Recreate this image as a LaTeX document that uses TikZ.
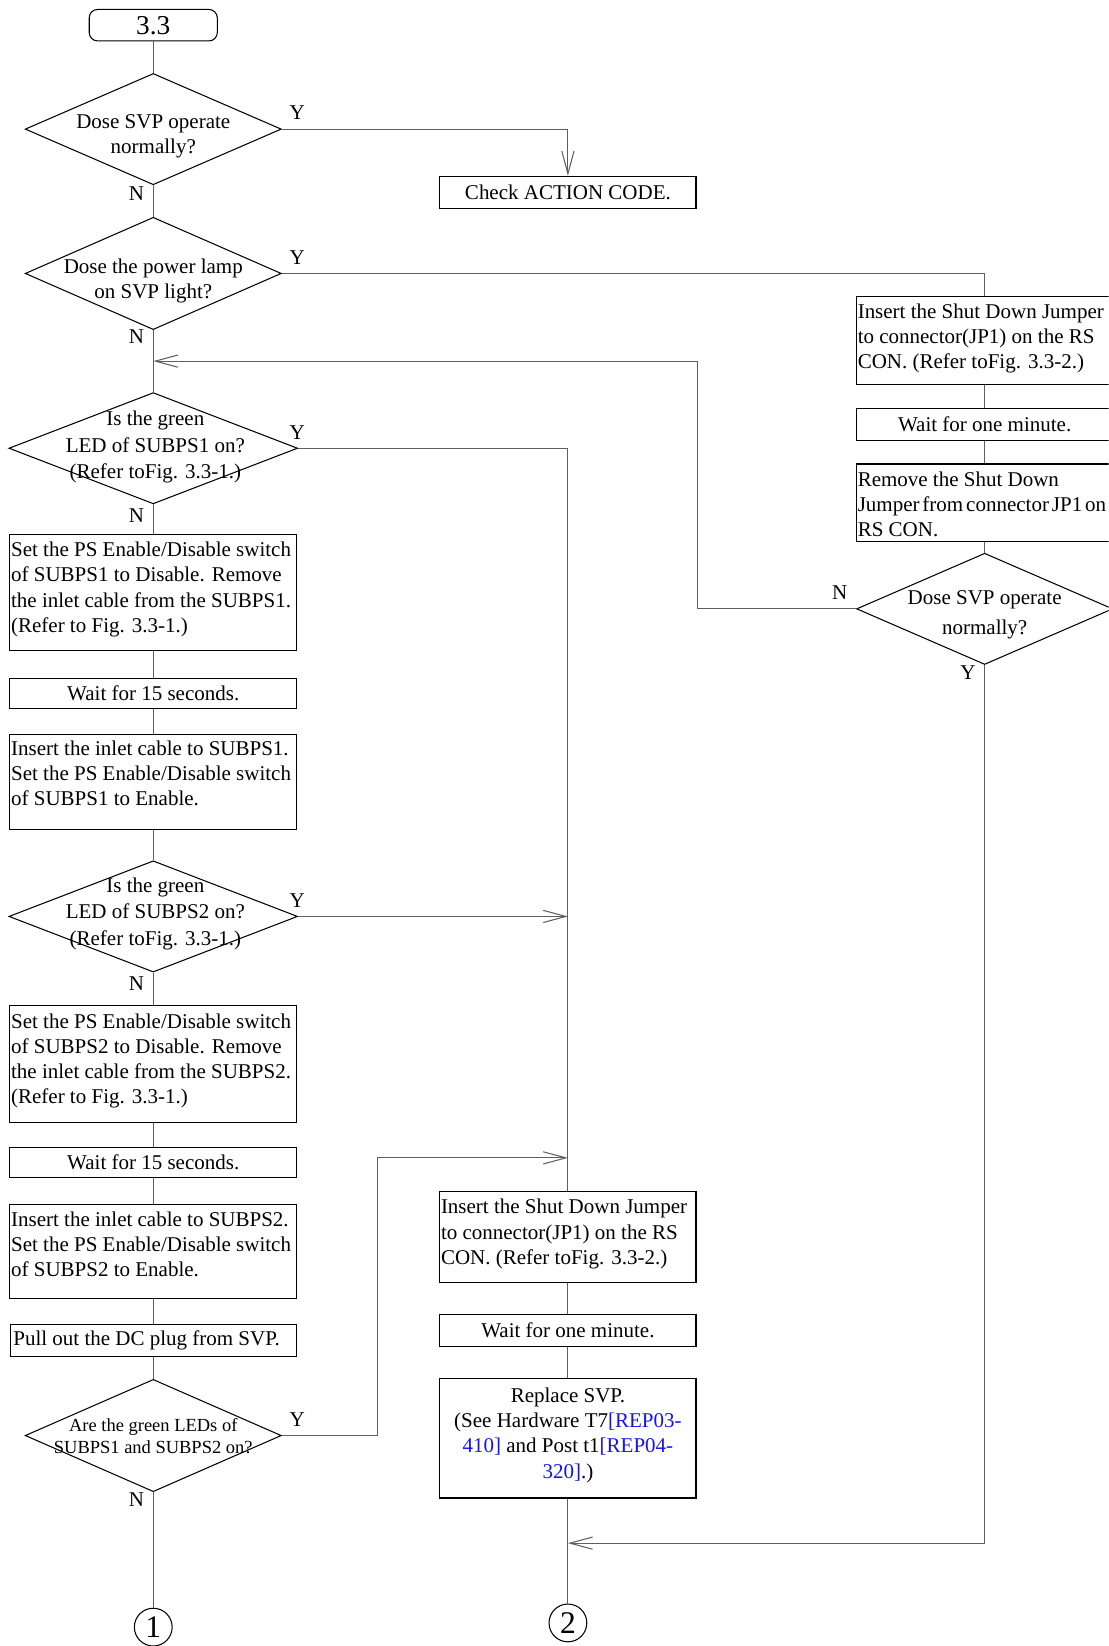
\documentclass[tikz,border=0pt]{standalone}
\usepackage{fontspec}
\setmainfont{Liberation Serif}
\usetikzlibrary{shapes.geometric,arrows.meta}
\definecolor{linkblue}{RGB}{20,20,235}
\definecolor{wire}{RGB}{95,95,95}

\begin{document}
\begin{tikzpicture}[x=0.5pt,y=-0.5pt,
  every node/.style={font=\fontsize{10}{12}\selectfont},
  box/.style={draw=black, line width=0.5pt, rectangle, inner sep=0pt},
  dia/.style={draw=black, line width=0.5pt, diamond, inner sep=0pt},
  body/.style={inner sep=0pt, align=left, anchor=north west, xshift=0.6pt, yshift=-3.8pt},
  dtext/.style={inner sep=0pt, align=center},
  yn/.style={inner sep=0pt},
  wire/.style={draw=wire, line width=0.5pt},
  arr/.style={wire, -{Straight Barb[length=10.8pt,width=5.8pt]}},
  conn/.style={draw=black, line width=0.5pt, circle, inner sep=0pt, minimum size=18pt,
               font=\fontsize{15}{15}\selectfont},
]
\clip (0,0) rectangle (1056,1568);

% ---------- main column ----------
\node[box, rounded corners=4pt, minimum width=61pt, minimum height=15pt,
      font=\fontsize{13}{13}\selectfont] (start) at (146,24) {3.3};

\node[dia, minimum width=122pt, minimum height=53pt] (d1) at (146,123) {};
\node[dtext] (t1) at (146,130) {Dose SVP operate\\normally?};

\node[box, minimum width=122pt, minimum height=15.5pt] (chk) at (541,183.5) {Check ACTION CODE.};

\node[dia, minimum width=122pt, minimum height=53.5pt] (d2) at (146,260.5) {};
\node[dtext] (t2) at (146,268) {Dose the power lamp\\on SVP light?};

\coordinate (j1) at (146,344);

\node[dia, minimum width=137.5pt, minimum height=53pt] (d4) at (146,427) {};
\node[dtext, font=\fontsize{10}{12.5}\selectfont] (t4) at (148,426)
  {Is the green\\LED of SUBPS1 on?\\(Refer toFig. 3.3-1.)};

\node[box, minimum width=136.5pt, minimum height=55.5pt] (b1) at (146,564.5) {};
\node[body] (tb1) at (b1.north west)
  {Set the PS Enable/Disable switch\\of SUBPS1 to Disable. Remove\\the inlet cable from the SUBPS1.\\(Refer to Fig. 3.3-1.)};

\node[box, minimum width=136.5pt, minimum height=14.5pt] (b2) at (146,660.5) {Wait for 15 seconds.};

\node[box, minimum width=136.5pt, minimum height=45pt] (b3) at (146,745) {};
\node[body, yshift=0.8pt] (tb3) at (b3.north west)
  {Insert the inlet cable to SUBPS1.\\Set the PS Enable/Disable switch\\of SUBPS1 to Enable.};

\node[dia, minimum width=137.5pt, minimum height=53pt] (d5) at (146,873) {};
\node[dtext, font=\fontsize{10}{12.5}\selectfont] (t5) at (148,870.5)
  {Is the green\\LED of SUBPS2 on?\\(Refer toFig. 3.3-1.)};

\node[box, minimum width=136.5pt, minimum height=55.5pt] (b4) at (146,1013.5) {};
\node[body] (tb4) at (b4.north west)
  {Set the PS Enable/Disable switch\\of SUBPS2 to Disable. Remove\\the inlet cable from the SUBPS2.\\(Refer to Fig. 3.3-1.)};

\node[box, minimum width=136.5pt, minimum height=14.5pt] (b5) at (146,1107.5) {Wait for 15 seconds.};

\node[box, minimum width=136.5pt, minimum height=45pt] (b6) at (146,1192) {};
\node[body] (tb6) at (b6.north west)
  {Insert the inlet cable to SUBPS2.\\Set the PS Enable/Disable switch\\of SUBPS2 to Enable.};

\node[box, minimum width=136pt, minimum height=15pt] (b7) at (146,1277) {};
\node[inner sep=0pt, anchor=west, xshift=1.4pt] (tb7) at (b7.west) {Pull out the DC plug from SVP.};

\node[dia, minimum width=122pt, minimum height=53.5pt] (d6) at (146,1367.5) {};
\node[dtext, font=\fontsize{8.8}{10.5}\selectfont] (t6) at (146,1368.5)
  {Are the green LEDs of\\SUBPS1 and SUBPS2 on?};

\node[conn] (c1) at (146,1550) {1};

% ---------- right column ----------
\node[box, minimum width=122pt, minimum height=42pt] (r1) at (938,324) {};
\node[body] (tr1) at (r1.north west)
  {Insert the Shut Down Jumper\\to connector(JP1) on the RS\\CON. (Refer toFig. 3.3-2.)};

\node[box, minimum width=122pt, minimum height=15.5pt] (r2) at (938,404.5) {Wait for one minute.};

\node[box, minimum width=122pt, minimum height=37pt] (r3) at (938,479) {};
\node[body] (tr3) at (r3.north west)
  {Remove the Shut Down\\{\spaceskip=1.4pt\relax Jumper from connector JP1 on}\\RS CON.};

\node[dia, minimum width=122pt, minimum height=53pt] (d3) at (938,580) {};
\node[dtext, font=\fontsize{10}{14.5}\selectfont] (t3) at (938,585.5)
  {Dose SVP operate\\normally?};

% ---------- middle column ----------
\coordinate (j3) at (541,873);
\coordinate (j4) at (541,1103);

\node[box, minimum width=122pt, minimum height=43.5pt] (i1) at (541,1178.5) {};
\node[body] (ti1) at (i1.north west)
  {Insert the Shut Down Jumper\\to connector(JP1) on the RS\\CON. (Refer toFig. 3.3-2.)};

\node[box, minimum width=122pt, minimum height=15.5pt] (i2) at (541,1267.5) {Wait for one minute.};

\node[box, minimum width=122pt, minimum height=57pt] (i3) at (541,1370) {};
\node[dtext, anchor=north, yshift=-4.6pt] (ti3) at (i3.north)
  {Replace SVP.\\(See Hardware T7\textcolor{linkblue}{[REP03-}\\\textcolor{linkblue}{410]} and Post t1\textcolor{linkblue}{[REP04-}\\\textcolor{linkblue}{320]}.)};

\coordinate (j2) at (541,1470);
\node[conn] (c2) at (541,1546) {2};

% ---------- connectors ----------
\draw[wire] (start.south) -- (d1.north);
\draw[arr] (d1.east) -| (chk.north);
\draw[wire] (d1.south) -- (d2.north);
\draw[wire] (d2.east) -| (r1.north);
\draw[wire] (d2.south) -- (d4.north);
\draw[wire] (r1.south) -- (r2.north);
\draw[wire] (r2.south) -- (r3.north);
\draw[wire] (r3.south) -- (d3.north);
\coordinate (k1) at (664,580);
\draw[arr] (d3.west) -- (k1) |- (j1);
\draw[arr] (d3.south) |- (j2);
\draw[wire] (d4.east) -| (i1.north);
\draw[wire] (d4.south) -- (b1.north);
\draw[wire] (b1.south) -- (b2.north);
\draw[wire] (b2.south) -- (b3.north);
\draw[wire] (b3.south) -- (d5.north);
\draw[arr] (d5.east) -- (j3);
\draw[wire] (d5.south) -- (b4.north);
\draw[wire] (b4.south) -- (b5.north);
\draw[wire] (b5.south) -- (b6.north);
\draw[wire] (b6.south) -- (b7.north);
\draw[wire] (b7.south) -- (d6.north);
\coordinate (k2) at (360,1367.5);
\draw[arr] (d6.east) -- (k2) |- (j4);
\draw[wire] (d6.south) -- (c1.north);
\draw[wire] (i1.south) -- (i2.north);
\draw[wire] (i2.south) -- (i3.north);
\draw[wire] (i3.south) -- (c2.north);

% ---------- branch labels ----------
\node[yn] (y1) at (283,107) {Y};
\node[yn] (n1) at (130,184) {N};
\node[yn] (y2) at (283,245) {Y};
\node[yn] (n2) at (130,321) {N};
\node[yn] (y4) at (283,412) {Y};
\node[yn] (n4) at (130,491) {N};
\node[yn] (y5) at (283,858) {Y};
\node[yn] (n5) at (130,937) {N};
\node[yn] (y6) at (283,1352) {Y};
\node[yn] (n6) at (130,1429) {N};
\node[yn] (n3) at (800,565) {N};
\node[yn] (y3) at (922,641) {Y};
\end{tikzpicture}
\end{document}
